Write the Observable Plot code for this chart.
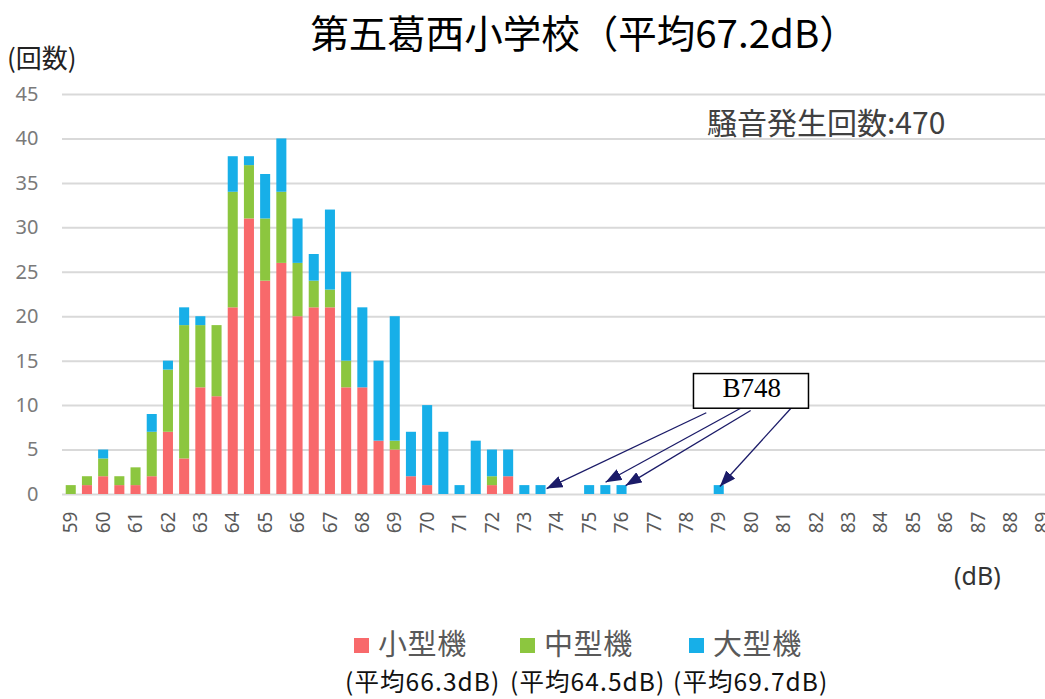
<!DOCTYPE html>
<html><head><meta charset="utf-8">
<script src="https://cdn.jsdelivr.net/npm/d3@7"></script>
<script src="https://cdn.jsdelivr.net/npm/@observablehq/plot@0.6"></script>
<style>
body{margin:0;background:#fff;overflow:hidden;}
#wrap{position:relative;width:1045px;height:699px;overflow:hidden;font-family:"Noto Sans CJK JP","Noto Sans",sans-serif;}
#wrap svg{position:absolute;left:0;top:0;overflow:hidden;}
.abs{position:absolute;white-space:nowrap;line-height:1;}
.sq{position:absolute;width:15px;height:15px;}
</style></head><body><div id="wrap"></div>
<script>
// ---- data ----
const dB     = [59,59.5,60,60.5,61,61.5,62,62.5,63,63.5,64,64.5,65,65.5,66,66.5,67,67.5,68,68.5,69,69.5,70,70.5,71,71.5,72,72.5,73,73.5,74,74.5,75,75.5,76,76.5,77,77.5,78,78.5,79];
const small  = [0,1,2,1,1,2,7,4,12,11,21,31,24,26,20,21,21,12,12,6,5,2,1,0,0,0,1,2,0,0,0,0,0,0,0,0,0,0,0,0,0];
const medium = [1,1,2,1,2,5,7,15,7,8,13,6,7,8,6,3,2,3,0,0,1,0,0,0,0,0,1,0,0,0,0,0,0,0,0,0,0,0,0,0,0];
const large  = [0,0,1,0,0,2,1,2,1,0,4,1,5,6,5,3,9,10,9,9,14,5,9,7,1,6,3,3,1,1,0,0,1,1,1,0,0,0,0,0,1];
const types  = ["小型機","中型機","大型機"];
const colors = ["#f8696b","#8cc63f","#17afe8"];
const averages = ["(平均66.3dB)","(平均64.5dB)","(平均69.7dB)"];
const xTicks = [59,60,61,62,63,64,65,66,67,68,69,70,71,72,73,74,75,76,77,78,79,80,81,82,83,84,85,86,87,88,89];
const yTicks = [0,5,10,15,20,25,30,35,40,45];
const titleText = "第五葛西小学校（平均67.2dB）";
const totalText = "騒音発生回数:470";
// annotation (B748)
const boxLabel = ["B748"];
const boxX = [78.22, 81.77], boxY = [9.65, 13.55], boxTextPos = [80, 11.95];
const arrowX1 = [78.6, 79.66, 79.97, 81.27];
const arrowY1 = [9.2, 9.7, 9.45, 9.93];
const arrowX2 = [73.67, 75.49, 76.11, 79.02];
const arrowY2 = [0.67, 1.38, 1.0, 0.9];

// ---- tables ----
const series = [small, medium, large];
const tidy = dB.flatMap((x, i) => types.map((t, k) => ({dB: x, type: t, count: series[k][i]})));
const box = [{x1: boxX[0], x2: boxX[1], y1: boxY[0], y2: boxY[1], x: boxTextPos[0], y: boxTextPos[1], label: boxLabel[0]}];
const arrows = arrowX1.map((_, i) => ({x1: arrowX1[i], y1: arrowY1[i], x2: arrowX2[i], y2: arrowY2[i]}));

const halfBar = 0.155;
const svg = Plot.plot({
  width: 1045, height: 699,
  marginTop: 94, marginBottom: 205, marginLeft: 62, marginRight: 0,
  style: {fontFamily: "'Noto Sans', 'Noto Sans CJK JP', sans-serif", background: "transparent", overflow: "hidden"},
  x: {domain: [58.73, 89.07]},
  y: {domain: [0, 45]},
  color: {domain: types, range: colors},
  marks: [
    Plot.gridY(yTicks, {stroke: "#d9d9d9", strokeOpacity: 1, strokeWidth: 2}),
    Plot.axisY(yTicks, {tickSize: 0, tickPadding: 24, fontSize: 20, fill: "#7a7a7a", label: null}),
    Plot.axisX(xTicks, {tickSize: 0, tickPadding: 17, tickRotate: -90, fontSize: 19, fill: "#595959", label: null}),
    Plot.rectY(tidy, {x1: d => d.dB - halfBar, x2: d => d.dB + halfBar, y: "count", fill: "type"}),
    Plot.link(arrows, {x1: "x1", y1: "y1", x2: "x2", y2: "y2", stroke: "#1b1b68", strokeWidth: 1.3, className: "b748arrow"}),
    Plot.rect(box, {x1: "x1", x2: "x2", y1: "y1", y2: "y2", fill: "white", stroke: "black", strokeWidth: 1.5}),
    Plot.text(box, {x: "x", y: "y", text: "label", fontFamily: "'Liberation Serif', 'DejaVu Serif', serif", fontSize: 27, fill: "#000"})
  ]
});

// filled arrowheads
const defs = d3.select(svg).insert("defs", ":first-child");
defs.append("marker").attr("id", "tri").attr("viewBox", "0 0 16 12")
  .attr("refX", 16).attr("refY", 6).attr("markerWidth", 16).attr("markerHeight", 12)
  .attr("markerUnits", "userSpaceOnUse").attr("orient", "auto")
  .append("path").attr("d", "M0,0L16,6L0,12Z").attr("fill", "#1b1b68");
d3.select(svg).selectAll(".b748arrow path").attr("marker-end", "url(#tri)");

const wrap = document.getElementById("wrap");
wrap.appendChild(svg);

function addText(txt, left, top, size, color, extra) {
  const d = document.createElement("div");
  d.className = "abs";
  d.textContent = txt;
  d.style.left = left + "px"; d.style.top = top + "px";
  d.style.fontSize = size + "px"; d.style.color = color;
  if (extra) Object.assign(d.style, extra);
  wrap.appendChild(d);
  return d;
}
addText(titleText, 0, 12, 38.5, "#000", {width: "1168px", textAlign: "center"});
addText("(回数)", 7, 44, 26, "#222");
addText(totalText, 707, 106, 30, "#404040");
addText("(dB)", 954, 563, 25, "#333", {fontFamily: "'Noto Sans', sans-serif"});

// legend
const sqLeft = [354, 520, 689];
types.forEach((t, i) => {
  const s = document.createElement("div");
  s.className = "sq"; s.style.left = sqLeft[i] + "px"; s.style.top = "638px"; s.style.background = colors[i];
  wrap.appendChild(s);
  addText(t, sqLeft[i] + 24, 628, 29, "#595959", {letterSpacing: "0.6px"});
});
const avgLeft = [345, 510, 673];
averages.forEach((a, i) => addText(a, avgLeft[i], 669, 24.5, "#111", {letterSpacing: "1.1px"}));
</script></body></html>
